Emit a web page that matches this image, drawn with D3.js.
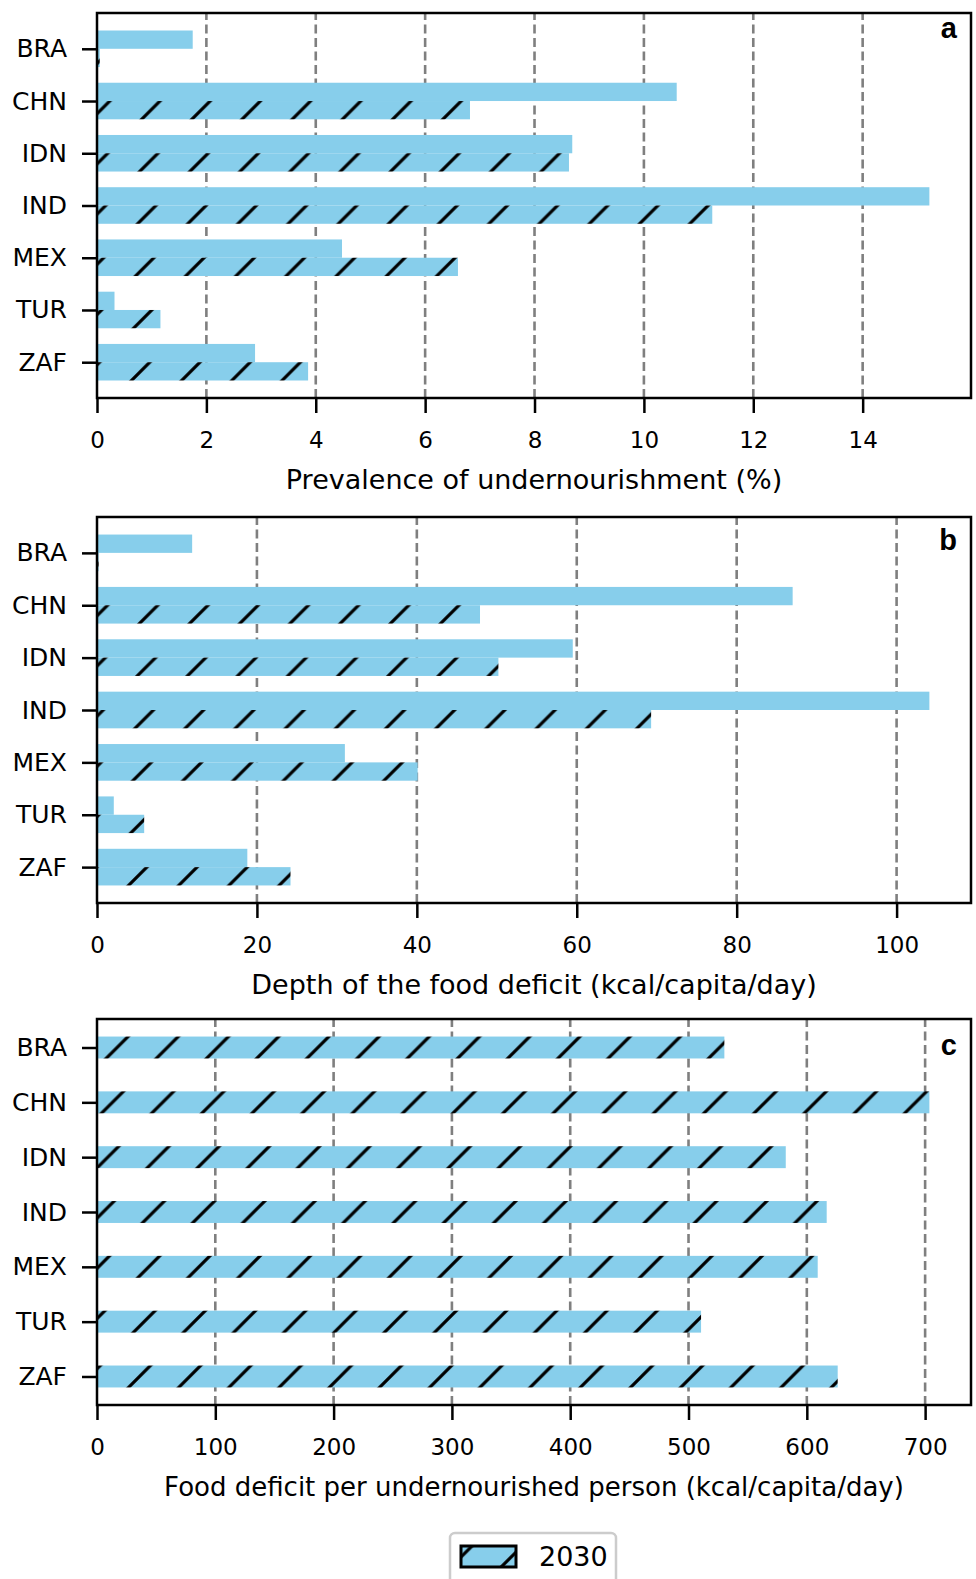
<!DOCTYPE html>
<html>
<head>
<meta charset="utf-8">
<script src="https://cdn.jsdelivr.net/npm/d3@7"></script>
<style>
  body { margin: 0; background: #fff; }
  svg { display: block; }
  text { font-family: "DejaVu Sans", sans-serif; fill: #000; }
</style>
</head>
<body>
<svg id="chart" width="976" height="1579"></svg>
<script>
// Countries, top to bottom
const categories = ["BRA", "CHN", "IDN", "IND", "MEX", "TUR", "ZAF"];

// Panel a: prevalence of undernourishment (%)
const prevalenceCurrent = [1.75, 10.6, 8.69, 15.22, 4.48, 0.32, 2.89];
const prevalence2030    = [0.05, 6.82, 8.63, 11.25, 6.60, 1.16, 3.86];

// Panel b: depth of the food deficit (kcal/capita/day)
const depthCurrent = [11.9, 87.0, 59.5, 104.1, 31.0, 2.1, 18.8];
const depth2030    = [0.2, 47.9, 50.2, 69.3, 40.1, 5.9, 24.2];

// Panel c: food deficit per undernourished person (kcal/capita/day)
const deficit2030 = [530.3, 703.6, 582.2, 616.8, 609.2, 510.6, 626.1];

// Tick values per panel
const ticksA = [0, 2, 4, 6, 8, 10, 12, 14];
const ticksB = [0, 20, 40, 60, 80, 100];
const ticksC = [0, 100, 200, 300, 400, 500, 600, 700];

const legendLabel = "2030";

const BAR_COLOR = "#87ceeb";
const left = 97, right = 971;

const svg = d3.select("#chart");

// Hatch ("/") fill used by the 2030 bars
const P = 50.2;
const defs = svg.append("defs");
const pat = defs.append("pattern")
  .attr("id", "hatch")
  .attr("patternUnits", "userSpaceOnUse")
  .attr("width", P).attr("height", P)
  .attr("x", 10).attr("y", 0);
pat.append("rect").attr("width", P).attr("height", P).attr("fill", BAR_COLOR);
pat.append("path")
  .attr("d", `M${-P/2},${P/2}L${P/2},${-P/2}M0,${P}L${P},0M${P/2},${3*P/2}L${3*P/2},${P/2}`)
  .attr("stroke", "#000").attr("stroke-width", 3.2);

const panels = [
  { top: 13, bottom: 398, series: [prevalenceCurrent, prevalence2030], ticks: ticksA,
    label: "Prevalence of undernourishment (%)", labelSize: 27, letter: "a", letterY: 38 },
  { top: 517, bottom: 903, series: [depthCurrent, depth2030], ticks: ticksB,
    label: "Depth of the food deficit (kcal/capita/day)", labelSize: 27, letter: "b", letterY: 550 },
  { top: 1019, bottom: 1405, series: [deficit2030], ticks: ticksC,
    label: "Food deficit per undernourished person (kcal/capita/day)", labelSize: 26, letter: "c", letterY: 1055 }
];

panels.forEach(p => {
  const paired = p.series.length === 2;
  const half = paired ? 0.35 : 0.2;
  const span = (categories.length - 1) + 2 * half;
  const pad = span * 0.05;

  const maxVal = d3.max(p.series.flat());
  const x = d3.scaleLinear().domain([0, maxVal * 1.05]).range([left, right]);
  const y = d3.scaleLinear().domain([-half - pad, categories.length - 1 + half + pad])
    .range([p.top, p.bottom]);

  const g = svg.append("g");

  // dashed vertical grid
  g.selectAll("line.grid").data(p.ticks.filter(t => t > 0)).join("line")
    .attr("class", "grid")
    .attr("x1", d => x(d)).attr("x2", d => x(d))
    .attr("y1", p.bottom).attr("y2", p.top)
    .attr("stroke", "#7f7f7f").attr("stroke-width", 2.6)
    .attr("stroke-dasharray", "9,4.5");

  // bars
  p.series.forEach((vals, si) => {
    const hatched = si === p.series.length - 1;
    const y0 = i => paired ? (si === 0 ? y(i - half) : y(i)) : y(i - half);
    const y1 = i => paired ? (si === 0 ? y(i) : y(i + half)) : y(i + half);
    g.selectAll(null).data(vals).join("rect")
      .attr("x", x(0))
      .attr("y", (d, i) => y0(i))
      .attr("width", d => x(d) - x(0))
      .attr("height", (d, i) => y1(i) - y0(i))
      .attr("fill", hatched ? "url(#hatch)" : BAR_COLOR);
  });

  // x axis
  const xAxis = d3.axisBottom(x).tickValues(p.ticks).tickFormat(d3.format("d"))
    .tickSize(15).tickPadding(19);
  const gx = svg.append("g").attr("transform", `translate(0,${p.bottom})`).call(xAxis);
  gx.select(".domain").remove();
  gx.selectAll(".tick line").attr("stroke", "#000").attr("stroke-width", 2.5);
  gx.selectAll(".tick text").attr("font-size", 23).attr("font-family", "DejaVu Sans");

  // y axis (categorical positions)
  const yAxis = d3.axisLeft(y).tickValues(d3.range(categories.length))
    .tickFormat(i => categories[i]).tickSize(15).tickPadding(15);
  const gy = svg.append("g").attr("transform", `translate(${left},0)`).call(yAxis);
  gy.select(".domain").remove();
  gy.selectAll(".tick line").attr("stroke", "#000").attr("stroke-width", 2.5);
  gy.selectAll(".tick text").attr("font-size", 25).attr("font-family", "DejaVu Sans");

  // frame
  svg.append("rect")
    .attr("x", left).attr("y", p.top)
    .attr("width", right - left).attr("height", p.bottom - p.top)
    .attr("fill", "none").attr("stroke", "#000").attr("stroke-width", 2.5);

  // axis label
  svg.append("text")
    .attr("x", (left + right) / 2).attr("y", p.bottom + 91)
    .attr("text-anchor", "middle").attr("font-size", p.labelSize)
    .text(p.label);

  // panel letter
  svg.append("text")
    .attr("x", 957).attr("y", p.letterY)
    .attr("text-anchor", "end")
    .attr("font-weight", "bold").attr("font-size", 29)
    .style("font-family", "'Liberation Sans', Arial, sans-serif")
    .text(p.letter);
});

// legend
const lg = svg.append("g");
lg.append("rect")
  .attr("x", 450).attr("y", 1533).attr("width", 166).attr("height", 62)
  .attr("rx", 5).attr("fill", "#fff").attr("stroke", "#cccccc").attr("stroke-width", 2.5);
lg.append("rect")
  .attr("x", 461).attr("y", 1546).attr("width", 55).attr("height", 21)
  .attr("fill", "url(#hatch)").attr("stroke", "#000").attr("stroke-width", 3);
lg.append("text")
  .attr("x", 539).attr("y", 1566).attr("font-size", 27)
  .text(legendLabel);
</script>
</body>
</html>
